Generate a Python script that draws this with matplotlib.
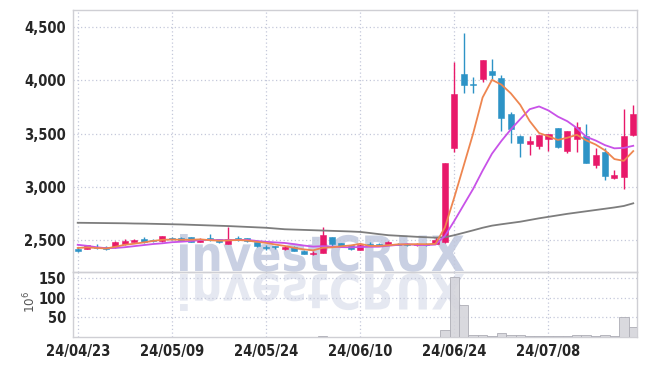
import numpy as np
import matplotlib
matplotlib.use('Agg')
import matplotlib.pyplot as plt
from matplotlib.textpath import TextPath
from matplotlib.patches import PathPatch
from matplotlib.font_manager import FontProperties
from matplotlib.transforms import Affine2D

# 거래일 (24/04/23 ~ 24/07/19)
dates = ['24/04/23', '24/04/24', '24/04/25', '24/04/26', '24/04/29', '24/04/30',
         '24/05/02', '24/05/03', '24/05/07', '24/05/08', '24/05/09', '24/05/10',
         '24/05/13', '24/05/14', '24/05/16', '24/05/17', '24/05/20', '24/05/21',
         '24/05/22', '24/05/23', '24/05/24', '24/05/27', '24/05/28', '24/05/29',
         '24/05/30', '24/05/31', '24/06/03', '24/06/04', '24/06/05', '24/06/07',
         '24/06/10', '24/06/11', '24/06/12', '24/06/13', '24/06/14', '24/06/17',
         '24/06/18', '24/06/19', '24/06/20', '24/06/21', '24/06/24', '24/06/25',
         '24/06/26', '24/06/27', '24/06/28', '24/07/01', '24/07/02', '24/07/03',
         '24/07/04', '24/07/05', '24/07/08', '24/07/09', '24/07/10', '24/07/11',
         '24/07/12', '24/07/15', '24/07/16', '24/07/17', '24/07/18', '24/07/19']

opens = [2420, 2418, 2435, 2434, 2431, 2460, 2484, 2507, 2500, 2488,
         2515, 2515, 2525, 2484, 2515, 2507, 2465, 2520, 2515, 2478,
         2435, 2440, 2413, 2437, 2400, 2365, 2381, 2525, 2469, 2453,
         2409, 2465, 2460, 2462, 2465, 2460, 2450, 2462, 2462, 2484,
         3368, 4061, 3965, 4014, 4092, 4023, 3685, 3481, 3403, 3387,
         3452, 3553, 3340, 3452, 3481, 3208, 3330, 3086, 3095, 3490]
highs = [2432, 2455, 2465, 2440, 2490, 2507, 2508, 2525, 2505, 2542,
         2530, 2525, 2530, 2515, 2560, 2512, 2625, 2535, 2520, 2480,
         2450, 2445, 2445, 2440, 2405, 2392, 2620, 2530, 2472, 2456,
         2458, 2478, 2470, 2486, 2470, 2475, 2470, 2475, 2530, 3224,
         4171, 4444, 4036, 4193, 4199, 4051, 3701, 3487, 3478, 3490,
         3500, 3553, 3525, 3607, 3588, 3368, 3362, 3158, 3729, 3769]
lows = [2390, 2412, 2415, 2410, 2428, 2455, 2480, 2470, 2480, 2485,
        2500, 2490, 2480, 2480, 2495, 2475, 2460, 2495, 2485, 2435,
        2405, 2420, 2410, 2393, 2368, 2360, 2378, 2440, 2440, 2410,
        2405, 2445, 2450, 2458, 2450, 2440, 2447, 2445, 2458, 2470,
        3330, 3879, 3879, 3988, 4014, 3528, 3409, 3278, 3296, 3356,
        3340, 3362, 3315, 3330, 3221, 3174, 3064, 3074, 2980, 3480]
closes = [2400, 2453, 2425, 2418, 2484, 2494, 2503, 2484, 2490, 2538,
          2505, 2495, 2484, 2510, 2500, 2478, 2510, 2500, 2488, 2440,
          2425, 2430, 2437, 2397, 2371, 2380, 2547, 2460, 2447, 2413,
          2453, 2450, 2455, 2481, 2455, 2450, 2465, 2450, 2500, 3224,
          3873, 3957, 3955, 4193, 4051, 3650, 3547, 3415, 3431, 3487,
          3494, 3377, 3522, 3563, 3227, 3299, 3105, 3111, 3478, 3685]

# 이동평균선
ma5 = [2425, 2430, 2425, 2420, 2436, 2455, 2465, 2477, 2491, 2502,
       2504, 2502, 2502, 2506, 2499, 2493, 2496, 2500, 2495, 2483,
       2473, 2457, 2444, 2426, 2412, 2403, 2426, 2431, 2441, 2449,
       2464, 2445, 2444, 2450, 2459, 2458, 2461, 2460, 2464, 2618,
       2902, 3201, 3502, 3840, 4006, 3961, 3879, 3771, 3619, 3506,
       3475, 3441, 3462, 3489, 3437, 3398, 3343, 3261, 3244, 3336]
ma10 = [2455, 2445, 2432, 2423, 2425, 2432, 2442, 2452, 2462, 2469,
        2479, 2484, 2490, 2499, 2500, 2499, 2499, 2501, 2501, 2491,
        2483, 2477, 2472, 2461, 2448, 2438, 2442, 2438, 2433, 2431,
        2434, 2436, 2437, 2446, 2454, 2461, 2453, 2452, 2457, 2538,
        2680, 2831, 2981, 3152, 3312, 3432, 3540, 3637, 3730, 3756,
        3718, 3660, 3617, 3554, 3471, 3436, 3392, 3362, 3366, 3386]
ma60 = [2662, 2661, 2660, 2659, 2658, 2657, 2655, 2654, 2652, 2650,
        2648, 2646, 2643, 2640, 2637, 2634, 2631, 2627, 2623, 2619,
        2615, 2608, 2601, 2598, 2595, 2592, 2589, 2586, 2583, 2580,
        2576, 2566, 2555, 2545, 2540, 2535, 2530, 2526, 2522, 2526,
        2545, 2568, 2591, 2615, 2635, 2648, 2660, 2672, 2688, 2704,
        2718, 2732, 2746, 2758, 2770, 2782, 2794, 2806, 2820, 2845]

# 거래량 (10^6)
volume = [0.5, 0.6, 0.5, 0.5, 0.7, 0.6, 0.6, 0.5, 0.5, 0.8,
          0.6, 0.5, 0.5, 0.5, 0.6, 0.5, 1.2, 0.6, 0.5, 0.6,
          0.5, 0.5, 0.5, 0.6, 0.7, 0.6, 3.0, 1.0, 0.6, 0.6,
          0.6, 0.5, 0.5, 0.6, 0.5, 0.5, 0.5, 0.5, 0.8, 19,
          152, 81, 6, 6, 2, 11, 6, 6, 3, 2,
          2, 2, 2, 6, 6, 2, 6, 2, 52, 26]

UP = '#e8196a'
DOWN = '#2d93c6'
GRID = '#c4c8da'
SPINE = '#cfcfd4'
TXT = '#262626'

plt.rcParams['font.family'] = ['DejaVu Sans Condensed', 'Noto Sans Condensed', 'DejaVu Sans']
plt.rcParams['font.stretch'] = 'condensed'

W, H = 647, 366
fig = plt.figure(figsize=(W / 100, H / 100), dpi=100)
ax = fig.add_axes([73 / W, 1 - 272 / H, (637 - 73) / W, 262 / H])
axv = fig.add_axes([73 / W, 1 - 337 / H, (637 - 73) / W, 65 / H], sharex=ax)

# 워터마크 (+ 반사)
fp = FontProperties(family='DejaVu Sans', weight='bold')
tp = TextPath((0, 0), 'investCRUX', size=1, prop=fp)
bb = tp.get_extents()
x0, x1 = 180, 464
base = H - 271
sx = (x1 - x0) / bb.width
sy = 37 / bb.y1
t1 = Affine2D().translate(-bb.x0, 0).scale(sx, sy).translate(x0, base)
t2 = Affine2D().translate(-bb.x0, 0).scale(sx, -sy).translate(x0, base - 3)
fig.add_artist(PathPatch(tp, transform=t1, fc='#c9d0e3', ec='none', zorder=-1))
fig.add_artist(PathPatch(tp, transform=t2, fc='#e5e8f1', ec='none', zorder=-1))

x = np.arange(len(closes))
o = np.array(opens)
c = np.array(closes)
colors = np.where(c >= o, UP, DOWN)

# 캔들
ax.vlines(x, lows, highs, colors=colors, lw=1.0, zorder=3)
ax.bar(x, np.maximum(np.abs(c - o), 6), bottom=np.minimum(o, c), width=0.64,
       color=colors, edgecolor=colors, lw=0.4, zorder=4)

# 이동평균
ax.plot(x, ma60, color='#7d7d7d', lw=1.3, zorder=5)
ax.plot(x, ma10, color='#c852e8', lw=1.3, zorder=6)
ax.plot(x, ma5, color='#ee8650', lw=1.3, zorder=7)

# 거래량
axv.bar(x, volume, width=1.0, color='#d5d5db', edgecolor='#b0b0b8', lw=0.7, alpha=0.9, zorder=3)

for a in (ax, axv):
    a.set_facecolor('none')
    a.grid(True, color=GRID, linestyle=(0, (1, 2)), lw=0.9)
    a.set_axisbelow(True)
    for s in a.spines.values():
        s.set_color(SPINE)
        s.set_linewidth(1.0)
    a.tick_params(length=0, labelsize=10.5, labelcolor=TXT, pad=5)

ax.set_xlim(-0.5, 59.4)
ax.set_ylim(2199, 4663)
yt = [2500, 3000, 3500, 4000, 4500]
ax.set_yticks(yt)
ax.set_yticklabels([f'{v:,}' for v in yt], fontweight='bold')
ax.tick_params(labelbottom=False)

axv.set_ylim(0, 165)
axv.set_yticks([50, 100, 150])
axv.set_yticklabels(['50', '100', '150'], fontweight='bold')
xt = list(range(0, len(dates), 10))
axv.set_xticks(xt)
axv.set_xticklabels([dates[i] for i in xt], fontweight='bold')
axv.set_ylabel('$10^6$', fontsize=9.5, color='#555555')
axv.yaxis.set_label_coords(-0.062, 0.54)

fig.savefig('out.png', dpi=100)
